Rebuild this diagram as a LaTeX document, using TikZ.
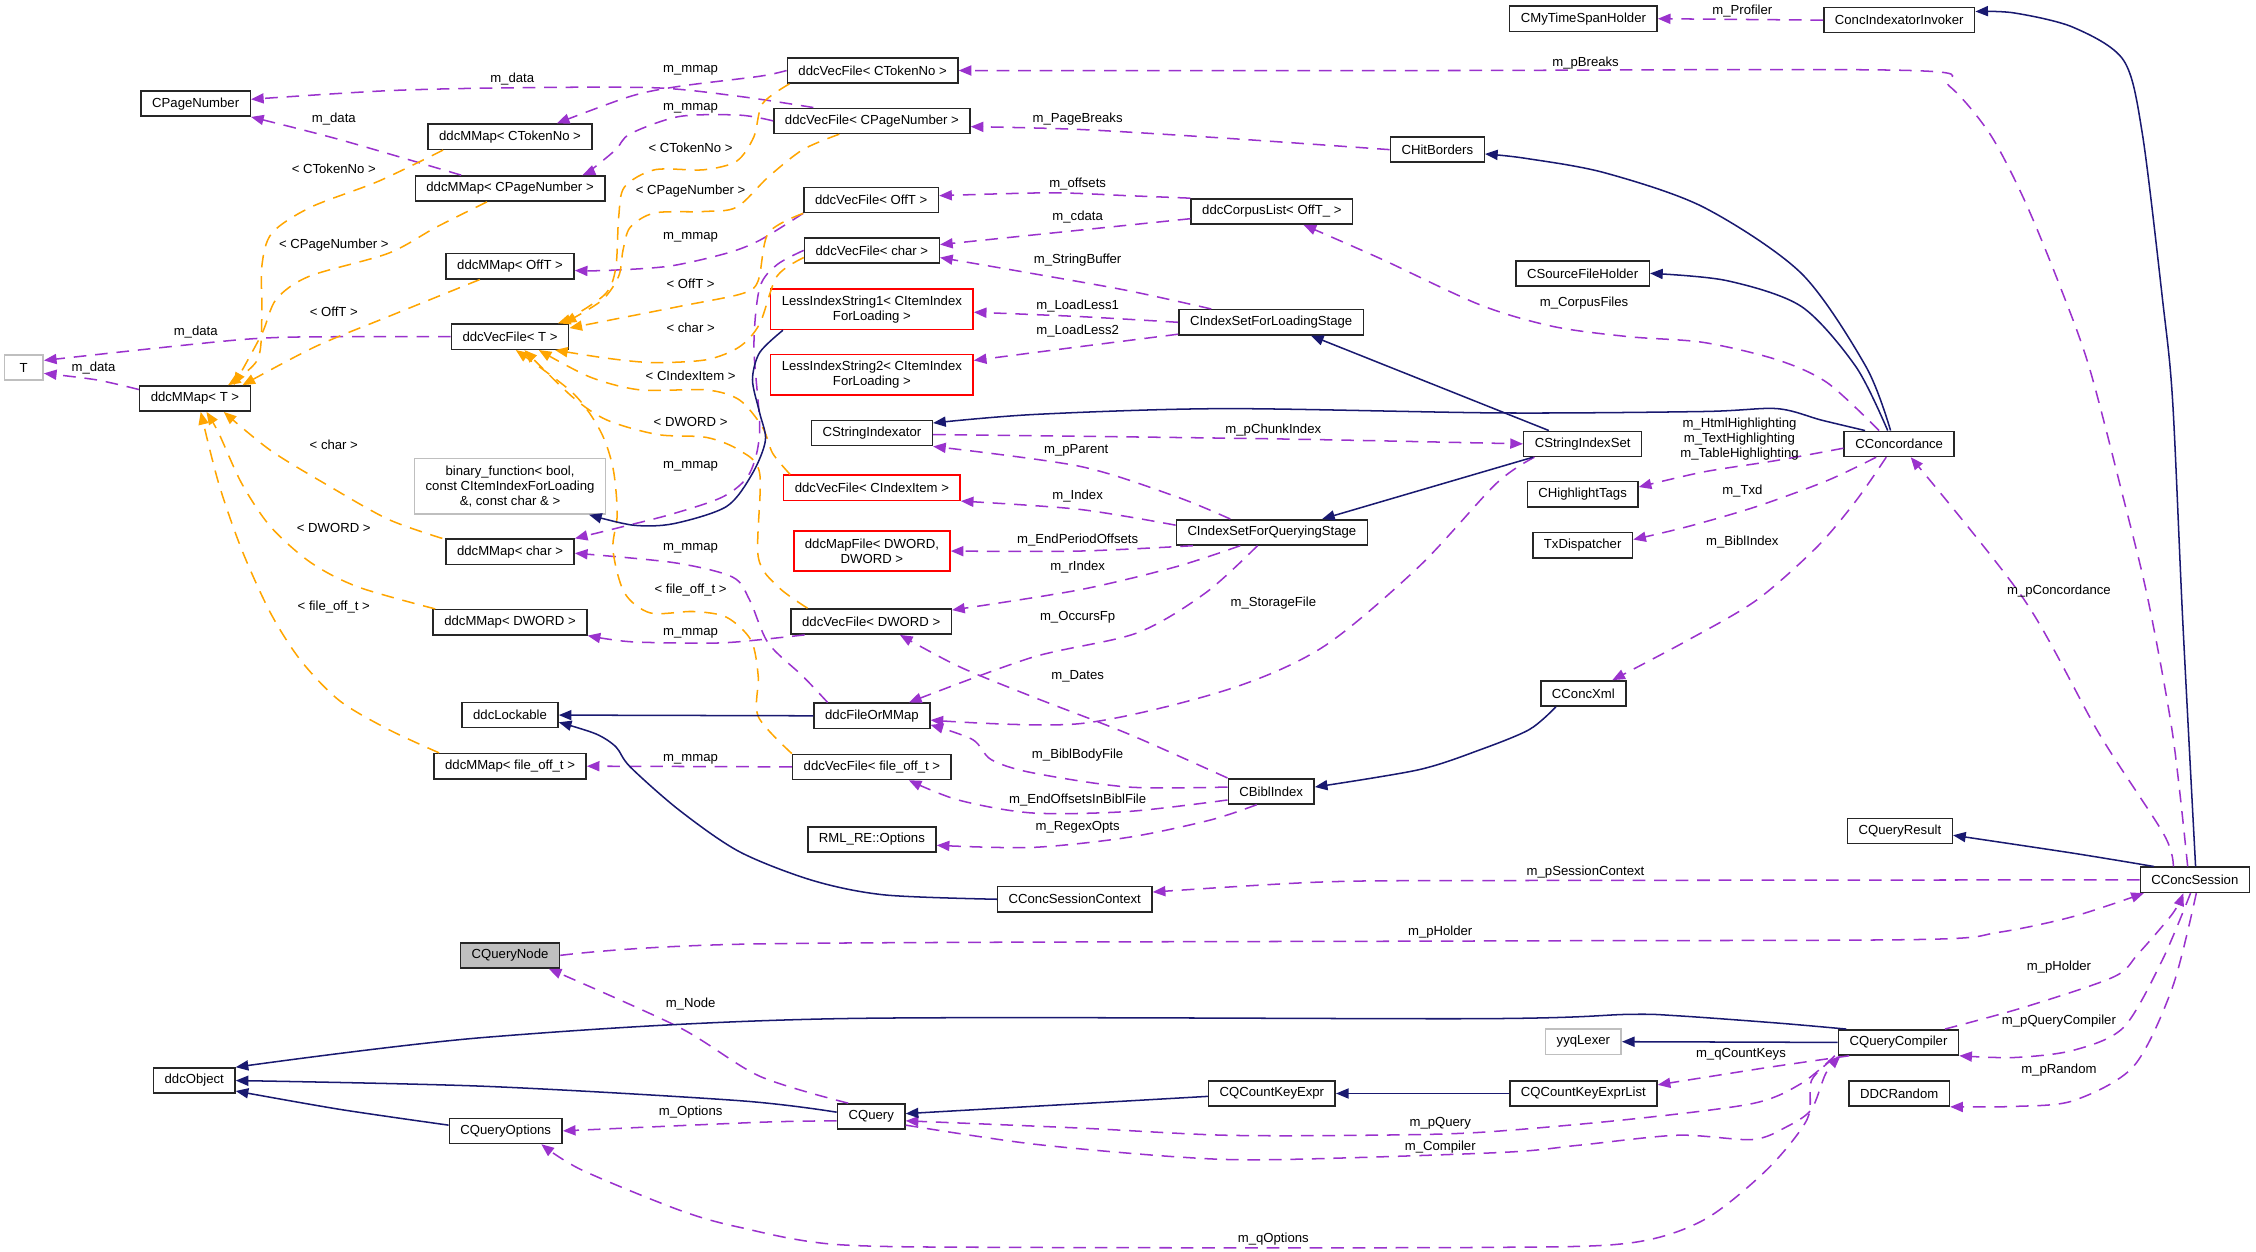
\documentclass[tikz,border=0pt]{standalone}
\usepackage{fontspec}
\setmainfont{Liberation Sans}
\usetikzlibrary{arrows.meta,calc}
\definecolor{membc}{HTML}{9A32CD}
\definecolor{tmplc}{HTML}{FFA500}
\definecolor{inhc}{HTML}{191970}
\definecolor{ghostc}{HTML}{BFBFBF}

\begin{document}
\begin{tikzpicture}[
    x=0.02cm, y=-0.02cm,
    box/.style={draw=black!85,line width=0.6pt,minimum height=0.35cm,inner xsep=4.4pt,inner ysep=1.5pt,align=center,font=\fontsize{5.2}{5.9}\selectfont},
    ghostbox/.style={box,draw=ghostc},
    redbox/.style={box,draw=red},
    lbl/.style={inner sep=0pt,align=center,font=\fontsize{5.2}{5.9}\selectfont},
    memberline/.style={membc,line width=0.6pt,dash pattern=on 5pt off 3.5pt,-{Triangle[length=5pt,width=4pt]}},
    tmplline/.style={tmplc,line width=0.6pt,dash pattern=on 5pt off 3.5pt,-{Triangle[length=5pt,width=4pt]}},
    inhline/.style={inhc,line width=0.6pt,-{Triangle[length=5pt,width=4pt]}}
]
    \useasboundingbox (0,0) rectangle (1568,870);

    \node[ghostbox,minimum width=0.54cm] (tee) at (16.5,255.5) {T};
    \node[box] (pageNum) at (136,72) {CPageNumber};
    \node[box] (mmTok) at (354.5,95) {ddcMMap< CTokenNo >};
    \node[box] (mmPage) at (354.5,131) {ddcMMap< CPageNumber >};
    \node[box] (mmOff) at (354.5,185) {ddcMMap< OffT >};
    \node[box] (vfT) at (354.5,234) {ddcVecFile< T >};
    \node[box] (mmT) at (135.5,277) {ddcMMap< T >};
    \node[ghostbox,minimum height=0.77cm] (binFunc) at (354.5,338) {binary\_function< bool,\\ const CItemIndexForLoading\\ \&, const char \& >};
    \node[box] (mmChar) at (354.5,383.5) {ddcMMap< char >};
    \node[box] (mmDword) at (354.5,432.5) {ddcMMap< DWORD >};
    \node[box] (lockable) at (354.5,497) {ddcLockable};
    \node[box] (mmFoff) at (354.5,532.5) {ddcMMap< file\_off\_t >};
    \node[box,fill=ghostc] (qNode) at (354.5,664) {CQueryNode};
    \node[box] (ddcObj) at (135,751) {ddcObject};
    \node[box] (qOpts) at (351.5,786) {CQueryOptions};

    \node[box] (vfTok) at (606.5,49) {ddcVecFile< CTokenNo >};
    \node[box] (vfPage) at (606,84) {ddcVecFile< CPageNumber >};
    \node[box] (vfOff) at (605.5,139) {ddcVecFile< OffT >};
    \node[box] (vfChar) at (606,174) {ddcVecFile< char >};
    \node[redbox,minimum height=0.56cm] (less1) at (606,215) {LessIndexString1< CItemIndex\\ForLoading >};
    \node[redbox,minimum height=0.56cm] (less2) at (606,260.5) {LessIndexString2< CItemIndex\\ForLoading >};
    \node[box] (strIdx) at (606,301) {CStringIndexator};
    \node[redbox] (vfItem) at (606,339) {ddcVecFile< CIndexItem >};
    \node[redbox,minimum height=0.56cm] (mapFile) at (606,383) {ddcMapFile< DWORD,\\DWORD >};
    \node[box] (vfDword) at (605.5,432) {ddcVecFile< DWORD >};
    \node[box] (fileOr) at (606,497.5) {ddcFileOrMMap};
    \node[box] (vfFoff) at (606,533) {ddcVecFile< file\_off\_t >};
    \node[box] (rmlOpt) at (606,583.5) {RML\_RE::Options};
    \node[box] (sessCtx) at (747,625) {CConcSessionContext};
    \node[box] (cquery) at (605.5,776) {CQuery};

    \node[box] (corpus) at (884,147) {ddcCorpusList< OffT\_ >};
    \node[box] (loadStage) at (883.5,224) {CIndexSetForLoadingStage};
    \node[box] (queryStage) at (884,370) {CIndexSetForQueryingStage};
    \node[box] (bibl) at (883.5,550) {CBiblIndex};
    \node[box] (cqKey) at (884,760) {CQCountKeyExpr};
    \node[box] (hit) at (999,104) {CHitBorders};

    \node[box] (timeSpan) at (1100.5,13) {CMyTimeSpanHolder};
    \node[box] (srcFile) at (1100,190) {CSourceFileHolder};
    \node[box] (strSet) at (1100,308.5) {CStringIndexSet};
    \node[box] (highlight) at (1100,343.5) {CHighlightTags};
    \node[box] (txd) at (1100,379) {TxDispatcher};
    \node[box] (concXml) at (1100.5,482) {CConcXml};
    \node[ghostbox] (yyq) at (1100.5,724) {yyqLexer};
    \node[box] (cqKeyList) at (1100.5,760) {CQCountKeyExprList};

    \node[box] (invoker) at (1320,14) {ConcIndexatorInvoker};
    \node[box] (conc) at (1320,308.5) {CConcordance};
    \node[box] (qResult) at (1320.5,577.5) {CQueryResult};
    \node[box] (qComp) at (1319.5,724.5) {CQueryCompiler};
    \node[box] (ddcRand) at (1320,760) {DDCRandom};
    \node[box] (session) at (1525.5,611.5) {CConcSession};

    \draw[memberline] plot[smooth] coordinates {(vfTok.west) (528,53) (472,60) (438,67) ($(mmTok.north east)+(-25,0)$)};
    \draw[memberline] plot[smooth] coordinates {($(vfPage.north west)+(28,0)$) (514,67) (455,61) (357,61) (270,63) ($(pageNum.east)+(0,-3)$)};
    \draw[memberline] plot[smooth] coordinates {(vfPage.west) (514,80) (472,81) (438,93) (428,104) (411,118) ($(mmPage.north east)+(-16,0)$)};
    \draw[memberline] plot[smooth] coordinates {($(mmPage.north)+(-34,0)$) (236,97) (pageNum.south east)};
    \draw[memberline] plot[smooth] coordinates {(vfOff.south west) (528,167) (505,176) (465,185) (421,188) ($(mmOff.east)+(0,3)$)};
    \draw[memberline] plot[smooth] coordinates {(vfT.west) (236,234) (168,236) ($(tee.east)+(0,-5)$)};
    \draw[memberline] plot[smooth] coordinates {($(mmT.north west)+(0,3)$) (67,264) ($(tee.east)+(0,4)$)};
    \draw[memberline] plot[smooth] coordinates {(vfChar.west) (540,184) (528,200) (524,241) (528,299) (521,329) (503,345) (468,357) (433,366) (mmChar.north east)};
    \draw[memberline] plot[smooth] coordinates {($(fileOr.north west)+(10,0)$) (558,470) (534,447) (521,417) (509,401) (468,391) ($(mmChar.east)+(0,1)$)};
    \draw[memberline] plot[smooth] coordinates {($(vfDword.south west)+(10,0)$) (514,446) (489,447) (438,446) (mmDword.south east)};
    \draw[memberline] (vfFoff.west) -- (mmFoff.east);
    \draw[memberline] plot[smooth] coordinates {(hit.west) (851,96) (751,90) ($(vfPage.east)+(0,4)$)};
    \draw[memberline] plot[smooth] coordinates {(corpus.north west) (784,136) (730,134) ($(vfOff.east)+(0,-3)$)};
    \draw[memberline] plot[smooth] coordinates {($(corpus.west)+(0,5)$) (750,160) ($(vfChar.east)+(0,-4)$)};
    \draw[memberline] plot[smooth] coordinates {($(loadStage.north west)+(23,0)$) (784,202) (717,190) ($(vfChar.east)+(0,5)$)};
    \draw[memberline] plot[smooth] coordinates {(loadStage.west) (750,220) ($(less1.east)+(0,2)$)};
    \draw[memberline] plot[smooth] coordinates {($(loadStage.south west)+(0,-1)$) (750,241) ($(less2.east)+(0,-10)$)};
    \draw[memberline] (invoker.west) -- (timeSpan.east);
    \draw[memberline] plot[smooth] coordinates {($(session.north)+(-5,0)$) (1510,510) (1493,417) (1476,347) (1452,255) (1431,197) (1407,139) (1383,93) (1355,60) (1328,49) (1000,49) (vfTok.east)};
    \draw[memberline] plot[smooth] coordinates {($(conc.north)+(-14,0)$) (1270,266) (1235,250) (1184,238) (1132,234) (1080,227) (1029,212) (960,180) ($(corpus.south)+(22,0)$)};
    \draw[memberline] plot[smooth] coordinates {($(strIdx.east)+(0,1)$) (885,305) (strSet.west)};
    \draw[memberline] plot[smooth] coordinates {($(queryStage.north west)+(38,0)$) (817,345) (750,324) (strIdx.south east)};
    \draw[memberline] plot[smooth] coordinates {($(queryStage.west)+(0,-5)$) (750,354) (vfItem.south east)};
    \draw[memberline] plot[smooth] coordinates {($(queryStage.south west)+(12,0)$) (750,383) (mapFile.east)};
    \draw[memberline] plot[smooth] coordinates {($(queryStage.south)+(-22,0)$) (817,394) (750,410) ($(vfDword.east)+(0,-8)$)};
    \draw[memberline] plot[smooth] coordinates {($(queryStage.south)+(-10,0)$) (838,412) (790,440) (717,457) ($(fileOr.north east)+(-15,0)$)};
    \draw[memberline] plot[smooth] coordinates {($(strSet.south west)+(8,0)$) (1040,336) (986,394) (919,450) (851,480) (750,503) ($(fileOr.east)+(0,3)$)};
    \draw[memberline] plot[smooth] coordinates {(bibl.north west) (784,510) (717,484) (666,463) ($(vfDword.south)+(20,0)$)};
    \draw[memberline] plot[smooth] coordinates {($(bibl.west)+(0,-3)$) (784,547) (717,537) (689,528) (676,514) ($(fileOr.south east)+(0,-3)$)};
    \draw[memberline] plot[smooth] coordinates {($(bibl.west)+(0,6)$) (784,564) (717,565) (666,556) ($(vfFoff.south east)+(-30,0)$)};
    \draw[memberline] plot[smooth] coordinates {($(bibl.south)+(-10,0)$) (841,570) (784,582) (717,589) ($(rmlOpt.east)+(0,4)$)};
    \draw[memberline] plot[smooth] coordinates {($(conc.west)+(0,3)$) (1235,320) (1184,328) ($(highlight.east)+(0,-5)$)};
    \draw[memberline] plot[smooth] coordinates {($(conc.south)+(-16,0)$) (1270,334) (1221,352) (1173,366) ($(txd.east)+(0,-4)$)};
    \draw[memberline] plot[smooth] coordinates {($(conc.south)+(-9,0)$) (1290,348) (1263,380) (1221,417) (1173,445) ($(concXml.north east)+(-10,0)$)};
    \draw[memberline] plot[smooth] coordinates {($(session.north)+(-15,0)$) (1504,580) (1459,510) (1407,417) ($(conc.south)+(8,0)$)};
    \draw[memberline] plot[smooth] coordinates {(session.west) (1043,612) (919,613) ($(sessCtx.east)+(0,-5)$)};
    \draw[memberline] plot[smooth] coordinates {(qNode.east) (528,656) (1029,654) (1332,653) (1389,648) (1441,637) ($(session.south west)+(3,0)$)};
    \draw[memberline] plot[smooth] coordinates {($(cquery.north west)+(8,0)$) (528,748) (472,714) ($(qNode.south east)+(-8,0)$)};
    \draw[memberline] plot[smooth] coordinates {($(cquery.west)+(0,3)$) (528,780) (qOpts.east)};
    \draw[memberline] plot[smooth] coordinates {($(qComp.north east)+(-10,0)$) (1407,700) (1469,679) (1486,663) (1510,635) ($(session.south)+(-8,0)$)};
    \draw[memberline] plot[smooth] coordinates {($(session.south)+(-3,0)$) (1503,667) (1476,714) (1441,730) (1400,735) (qComp.south east)};
    \draw[memberline] plot[smooth] coordinates {($(session.south)+(1,0)$) (1510,686) (1483,741) (1441,765) (1400,769) (ddcRand.south east)};
    \draw[memberline] plot[smooth] coordinates {($(qComp.south west)+(8,0)$) (1228,742) ($(cqKeyList.east)+(0,-6)$)};
    \draw[memberline] plot[smooth] coordinates {($(qComp.south west)+(-2,0)$) (1252,753) (1218,767) (1132,778) (1029,787) (952,789) (851,789) (750,784) ($(cquery.east)+(0,3)$)};
    \draw[memberline] plot[smooth] coordinates {($(cquery.east)+(0,6)$) (717,795) (817,804) (885,806) (1043,801) (1097,796) (1166,789) (1218,792) (1242,783) (1259,771) (1269,746) ($(qComp.south west)+(2,0)$)};
    \draw[memberline] plot[smooth] coordinates {($(qComp.south west)+(-3,2)$) (1259,751) (1256,778) (1228,813) (1184,848) (1132,864) (1029,867) (717,867) (582,865) (514,853) (472,841) (404,813) ($(qOpts.south east)+(-15,0)$)};

    \draw[tmplline] plot[smooth] coordinates {($(mmTok.south west)+(11,0)$) (263,126) (216,144) (189,162) (182,185) (182,220) (179,250) ($(mmT.north)+(23,0)$)};
    \draw[tmplline] plot[smooth] coordinates {($(mmPage.south)+(-16,0)$) (303,158) (270,176) (215,192) (192,208) (182,232) ($(mmT.north)+(27,0)$)};
    \draw[tmplline] plot[smooth] coordinates {($(mmOff.south west)+(24,0)$) (270,220) (219,241) ($(mmT.north)+(33,0)$)};
    \draw[tmplline] plot[smooth] coordinates {($(mmChar.north west)+(-2,0)$) (270,361) (229,338) (188,313) ($(mmT.south)+(20,0)$)};
    \draw[tmplline] plot[smooth] coordinates {($(mmDword.north west)+(2,0)$) (249,408) (216,391) (188,366) (168,336) (152,301) ($(mmT.south)+(8,0)$)};
    \draw[tmplline] plot[smooth] coordinates {($(mmFoff.north west)+(4,0)$) (270,507) (236,487) (209,459) (188,426) (168,382) (152,336) ($(mmT.south)+(4,0)$)};
    \draw[tmplline] plot[smooth] coordinates {($(vfTok.south west)+(2,0)$) (530,72) (524,95) (512,112) (489,118) (455,118) (434,130) (430,151) (428,186) (421,204) (398,220) ($(vfT.north east)+(-8,0)$)};
    \draw[tmplline] plot[smooth] coordinates {($(vfPage.south west)+(46,0)$) (558,104) (534,123) (512,144) (489,147) (455,148) (438,158) (433,174) (430,192) (418,209) ($(vfT.north east)+(-4,0)$)};
    \draw[tmplline] plot[smooth] coordinates {(vfOff.south west) (534,162) (527,195) (516,204) (472,213) ($(vfT.east)+(0,-6)$)};
    \draw[tmplline] plot[smooth] coordinates {($(vfChar.west)+(0,5)$) (540,192) (528,225) (514,241) (491,250) (454,252) (422,249) ($(vfT.south east)+(-10,0)$)};
    \draw[tmplline] plot[smooth] coordinates {($(vfItem.north west)+(5,0)$) (537,315) (530,297) (514,278) (491,271) (445,271) (410,262) ($(vfT.south)+(20,0)$)};
    \draw[tmplline] plot[smooth] coordinates {($(vfDword.north west)+(12,0)$) (541,408) (527,387) (528,329) (514,313) (491,304) (457,302) (422,292) (398,276) ($(vfT.south)+(10,0)$)};
    \draw[tmplline] plot[smooth] coordinates {(vfFoff.north west) (527,498) (527,470) (522,445) (505,429) (482,425) (452,426) (434,412) (426,382) (429,357) (426,325) (417,299) (398,273) ($(vfT.south)+(4,0)$)};

    \draw[inhline] plot[smooth] coordinates {($(session.north)+(0.5,0)$) (1517,430) (1510,278) (1503,208) (1489,93) (1476,42) (1441,19) (1400,9) ($(invoker.east)+(0,-6)$)};
    \draw[inhline] plot[smooth] coordinates {($(conc.north)+(-6,0)$) (1297,255) (1252,190) (1184,144) (1115,120) (1060,110) ($(hit.east)+(0,3)$)};
    \draw[inhline] plot[smooth] coordinates {($(conc.north)+(-8,0)$) (1290,255) (1252,213) (1200,195) (srcFile.east)};
    \draw[inhline] plot[smooth] coordinates {($(conc.north west)+(15,0)$) (1266,292) (1235,284) (1184,286) (1043,287) (851,284) (720,288) ($(strIdx.east)+(0,-7)$)};
    \draw[inhline] ($(strSet.north west)+(18,0)$) -- ($(loadStage.south east)+(-37,0)$);
    \draw[inhline] ($(strSet.south west)+(7,0)$) -- ($(queryStage.north east)+(-32,0)$);
    \draw[inhline] plot[smooth] coordinates {($(less1.south west)+(9,0)$) (528,245) (523,264) (528,287) (532,306) (523,329) (505,352) (468,364) (440,365) ($(binFunc.south east)+(-12,0)$)};
    \draw[inhline] (fileOr.west) -- (lockable.east);
    \draw[inhline] plot[smooth] coordinates {(sessCtx.west) (615,622) (565,612) (514,592) (472,563) (438,533) (428,519) (414,510) ($(lockable.east)+(0,5)$)};
    \draw[inhline] plot[smooth] coordinates {($(concXml.south west)+(11,0)$) (1063,507) (1029,521) (986,535) ($(bibl.east)+(0,-3)$)};
    \draw[inhline] plot[smooth] coordinates {($(session.north west)+(10,0)$) (1441,593) ($(qResult.east)+(0,3)$)};
    \draw[inhline] plot[smooth] coordinates {($(qComp.north west)+(6,0)$) (1235,711) (1166,706) (1132,705) (1029,708) (582,708) (337,721) (ddcObj.north east)};
    \draw[inhline] plot[smooth] coordinates {($(cquery.west)+(0,-3)$) (514,765) (337,755) (ddcObj.east)};
    \draw[inhline] plot[smooth] coordinates {($(qOpts.west)+(0,-4)$) (236,771) ($(ddcObj.south east)+(0,-2)$)};
    \draw[inhline] ($(cqKey.west)+(0,2)$) -- ($(cquery.east)+(0,-2)$);
    \draw[inhline] (cqKeyList.west) -- (cqKey.east);
    \draw[inhline] (qComp.west) -- (yyq.east);

    \node[lbl] (lb1) at (480,49) {m\_mmap};
    \node[lbl] (lb2) at (356,55) {m\_data};
    \node[lbl] (lb3) at (480,75) {m\_mmap};
    \node[lbl] (lb4) at (232,83) {m\_data};
    \node[lbl] (lb5) at (480,165) {m\_mmap};
    \node[lbl] (lb6) at (136,231) {m\_data};
    \node[lbl] (lb7) at (65,256) {m\_data};
    \node[lbl] (lb8) at (480,324) {m\_mmap};
    \node[lbl] (lb9) at (480,381) {m\_mmap};
    \node[lbl] (lb10) at (480,440) {m\_mmap};
    \node[lbl] (lb11) at (480,528) {m\_mmap};
    \node[lbl] (lb12) at (749,83) {m\_PageBreaks};
    \node[lbl] (lb13) at (749,128) {m\_offsets};
    \node[lbl] (lb14) at (749,151) {m\_cdata};
    \node[lbl] (lb15) at (749,181) {m\_StringBuffer};
    \node[lbl] (lb16) at (749,213) {m\_LoadLess1};
    \node[lbl] (lb17) at (749,230) {m\_LoadLess2};
    \node[lbl] (lb18) at (1211,8) {m\_Profiler};
    \node[lbl] (lb19) at (1102,44) {m\_pBreaks};
    \node[lbl] (lb20) at (1101,211) {m\_CorpusFiles};
    \node[lbl] (lb21) at (885,299) {m\_pChunkIndex};
    \node[lbl] (lb22) at (748,313) {m\_pParent};
    \node[lbl] (lb23) at (749,345) {m\_Index};
    \node[lbl] (lb24) at (749,375) {m\_EndPeriodOffsets};
    \node[lbl] (lb25) at (749,394) {m\_rIndex};
    \node[lbl] (lb26) at (749,429) {m\_OccursFp};
    \node[lbl] (lb27) at (885,419) {m\_StorageFile};
    \node[lbl] (lb28) at (749,470) {m\_Dates};
    \node[lbl] (lb29) at (749,525) {m\_BiblBodyFile};
    \node[lbl] (lb30) at (749,556) {m\_EndOffsetsInBiblFile};
    \node[lbl] (lb31) at (749,575) {m\_RegexOpts};
    \node[lbl] (lb32) at (1209,305) {m\_HtmlHighlighting\\m\_TextHighlighting\\m\_TableHighlighting};
    \node[lbl] (lb33) at (1211,341) {m\_Txd};
    \node[lbl] (lb34) at (1211,377) {m\_BiblIndex};
    \node[lbl] (lb35) at (1431,411) {m\_pConcordance};
    \node[lbl] (lb36) at (1102,606) {m\_pSessionContext};
    \node[lbl] (lb37) at (1001,648) {m\_pHolder};
    \node[lbl] (lb38) at (480,698) {m\_Node};
    \node[lbl] (lb39) at (480,773) {m\_Options};
    \node[lbl] (lb40) at (1431,672) {m\_pHolder};
    \node[lbl] (lb41) at (1431,710) {m\_pQueryCompiler};
    \node[lbl] (lb42) at (1431,744) {m\_pRandom};
    \node[lbl] (lb43) at (1210,733) {m\_qCountKeys};
    \node[lbl] (lb44) at (1001,781) {m\_pQuery};
    \node[lbl] (lb45) at (1001,797) {m\_Compiler};
    \node[lbl] (lb46) at (885,861) {m\_qOptions};
    \node[lbl] (lb47) at (232,117) {< CTokenNo >};
    \node[lbl] (lb48) at (232,170) {< CPageNumber >};
    \node[lbl] (lb49) at (232,217) {< OffT >};
    \node[lbl] (lb50) at (232,309) {< char >};
    \node[lbl] (lb51) at (232,367) {< DWORD >};
    \node[lbl] (lb52) at (232,422) {< file\_off\_t >};
    \node[lbl] (lb53) at (480,103) {< CTokenNo >};
    \node[lbl] (lb54) at (480,133) {< CPageNumber >};
    \node[lbl] (lb55) at (480,197) {< OffT >};
    \node[lbl] (lb56) at (480,228) {< char >};
    \node[lbl] (lb57) at (480,261) {< CIndexItem >};
    \node[lbl] (lb58) at (480,293) {< DWORD >};
    \node[lbl] (lb59) at (480,410) {< file\_off\_t >};
\end{tikzpicture}
\end{document}
